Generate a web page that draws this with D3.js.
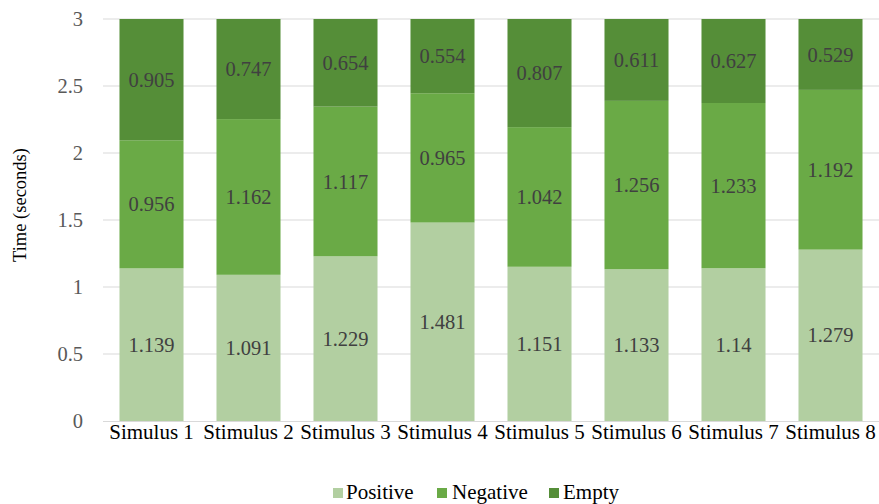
<!DOCTYPE html>
<html>
<head>
<meta charset="utf-8">
<script src="https://cdn.jsdelivr.net/npm/d3@7"></script>
</head>
<body style="margin:0;background:#fff">
<svg id="chart" width="879" height="504" style="display:block"></svg>
<script>
// Response time per stimulus, split by phase
const categories = ["Simulus 1", "Stimulus 2", "Stimulus 3", "Stimulus 4",
                    "Stimulus 5", "Stimulus 6", "Stimulus 7", "Stimulus 8"];
const positive = [1.139, 1.091, 1.229, 1.481, 1.151, 1.133, 1.14, 1.279];
const negative = [0.956, 1.162, 1.117, 0.965, 1.042, 1.256, 1.233, 1.192];
const empty    = [0.905, 0.747, 0.654, 0.554, 0.807, 0.611, 0.627, 0.529];
const seriesNames = ["Positive", "Negative", "Empty"];
const yTicks = [0, 0.5, 1, 1.5, 2, 2.5, 3];

const colors = { Positive: "#b2cfa1", Negative: "#6aaa46", Empty: "#558e38" };
const FONT = "'Liberation Serif'";

const rows = categories.map((c, i) => ({
  cat: c, Positive: positive[i], Negative: negative[i], Empty: empty[i]
}));
const stacked = d3.stack().keys(seriesNames)(rows);

const svg = d3.select("#chart");
const margin = { left: 103, right: 0, top: 19, bottom: 83 };
const W = 879, H = 504;

const x = d3.scaleBand().domain(categories)
  .range([margin.left, W - margin.right])
  .paddingInner(0.34).paddingOuter(0.17);
const y = d3.scaleLinear().domain([0, 3]).range([H - margin.bottom, margin.top]);

// gridlines
svg.append("g").selectAll("line").data(yTicks.filter(t => t > 0)).join("line")
  .attr("x1", margin.left).attr("x2", W)
  .attr("y1", d => y(d)).attr("y2", d => y(d))
  .attr("stroke", "#d9d9d9").attr("stroke-width", 1);

// y axis tick labels
const yAxis = svg.append("g")
  .attr("transform", `translate(${margin.left - 20},0)`)
  .call(d3.axisLeft(y).tickValues(yTicks).tickFormat(d3.format("")).tickSize(0).tickPadding(0))
  .attr("font-family", null).attr("font-size", null);
yAxis.select(".domain").remove();
yAxis.selectAll("text")
  .attr("fill", "#595959")
  .style("font-family", FONT).style("font-size", "20.5px");

// bars
svg.append("g").selectAll("g").data(stacked).join("g")
  .attr("fill", d => colors[d.key])
  .selectAll("rect").data(d => d).join("rect")
  .attr("x", d => x(d.data.cat))
  .attr("width", x.bandwidth())
  .attr("y", d => y(d[1]))
  .attr("height", d => y(d[0]) - y(d[1]));

// value labels in each segment
svg.append("g").selectAll("g").data(stacked).join("g")
  .selectAll("text").data(d => d.map(v => ({ v, key: d.key }))).join("text")
  .attr("x", d => x(d.v.data.cat) + x.bandwidth() / 2)
  .attr("y", d => y((d.v[0] + d.v[1]) / 2))
  .attr("dy", "0.35em")
  .attr("text-anchor", "middle")
  .attr("fill", "#404040")
  .style("font-family", FONT).style("font-size", "20.5px")
  .text(d => d.v.data[d.key]);

// x axis baseline and labels
svg.append("line")
  .attr("x1", margin.left).attr("x2", W)
  .attr("y1", y(0) + 0.5).attr("y2", y(0) + 0.5)
  .attr("stroke", "#d9d9d9");
const xAxis = svg.append("g")
  .attr("transform", `translate(0,${y(0)})`)
  .call(d3.axisBottom(x).tickSize(0).tickPadding(3))
  .attr("font-family", null).attr("font-size", null);
xAxis.select(".domain").remove();
xAxis.selectAll("text")
  .attr("fill", "#000")
  .style("font-family", FONT).style("font-size", "21px");

// y axis title
svg.append("text")
  .attr("transform", `translate(26,205) rotate(-90)`)
  .attr("text-anchor", "middle")
  .attr("fill", "#000")
  .style("font-family", FONT).style("font-size", "18.5px")
  .text("Time (seconds)");

// legend
const legendX = [333, 437, 549];
const legend = svg.append("g").selectAll("g").data(seriesNames).join("g")
  .attr("transform", (d, i) => `translate(${legendX[i]},499)`);
legend.append("rect")
  .attr("x", 0).attr("y", -11).attr("width", 10).attr("height", 10)
  .attr("fill", d => colors[d]);
legend.append("text")
  .attr("x", (d, i) => [13, 15, 14][i])
  .attr("fill", "#000")
  .style("font-family", FONT).style("font-size", "21px")
  .text(d => d);
</script>
</body>
</html>
